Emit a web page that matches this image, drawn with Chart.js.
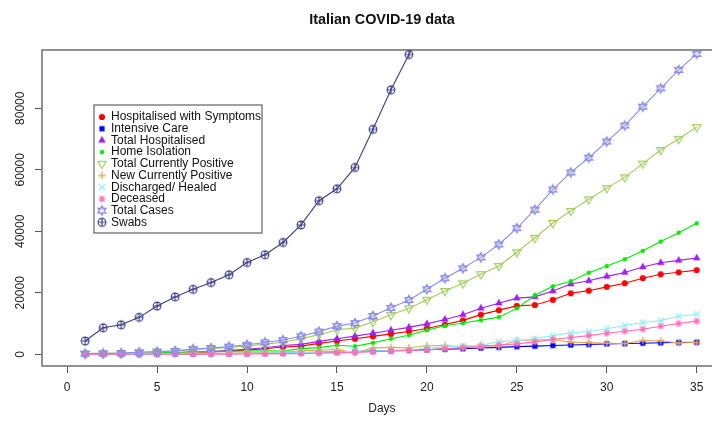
<!DOCTYPE html>
<html>
<head>
<meta charset="utf-8">
<title>Italian COVID-19 data</title>
<script src="https://cdn.jsdelivr.net/npm/chart.js@4/dist/chart.umd.min.js"></script>
<style>
  html, body { margin: 0; padding: 0; background: #fff; overflow: hidden; }
  #wrap { width: 712px; height: 425px; overflow: hidden; }
</style>
</head>
<body>
<div id="wrap"><canvas id="covidPlot" width="727" height="425"></canvas></div>
<script>
// days since 24 Feb 2020
const days = [1,2,3,4,5,6,7,8,9,10,11,12,13,14,15,16,17,18,19,20,21,22,23,24,25,26,27,28,29,30,31,32,33,34,35];

const hospitalisedSymptoms = [101,114,128,248,345,401,639,742,1034,1346,1790,2394,2651,3557,4316,5038,5838,6650,7426,8372,9663,11025,12894,14363,15757,16020,17708,19846,20692,21937,23112,24753,26029,26676,27386];
const intensiveCare = [26,35,36,56,64,105,140,166,229,295,351,462,567,650,733,877,1028,1153,1328,1518,1672,1851,2060,2257,2498,2655,2857,3009,3204,3396,3489,3612,3732,3856,3906];
const totalHospitalised = [127,150,164,304,409,506,779,908,1263,1641,2141,2856,3218,4207,5049,5915,6866,7803,8754,9890,11335,12876,14954,16620,18255,18675,20565,22855,23896,25333,26601,28365,29761,30532,31292];
const homeIsolation = [94,162,221,284,412,543,798,927,1000,1065,1155,1060,1843,2180,2936,2599,3724,5036,6201,7860,9268,10197,11108,12090,14935,19185,22116,23783,26522,28697,30920,33648,36653,39533,42588];
const totalCurrentlyPositive = [221,311,385,588,821,1049,1577,1835,2263,2706,3296,3916,5061,6387,7985,8514,10590,12839,14955,17750,20603,23073,26062,28710,33190,37860,42681,46638,50418,54030,57521,62013,66414,70065,73880];
const newCurrentlyPositive = [221,90,74,203,233,228,528,258,428,443,590,620,1145,1326,1598,529,2076,2249,2116,2795,2853,2470,2989,2648,4480,4670,4821,3957,3780,3612,3491,4492,4401,3651,3815];
const dischargedHealed = [1,1,3,45,46,50,83,149,160,276,414,523,589,622,724,1004,1045,1258,1439,1966,2335,2749,2941,4025,4440,5129,6072,7024,7432,8326,9362,10361,10950,12384,13030];
const deceased = [7,10,12,17,21,29,34,52,79,107,148,197,233,366,463,631,827,1016,1266,1441,1809,2158,2503,2978,3405,4032,4825,5476,6077,6820,7503,8165,9134,10023,10779];
const totalCases = [229,322,400,650,888,1128,1694,2036,2502,3089,3858,4636,5883,7375,9172,10149,12462,15113,17660,21157,24747,27980,31506,35713,41035,47021,53578,59138,63927,69176,74386,80539,86498,92472,97689];
const swabs = [4324,8623,9587,12014,15695,18661,21127,23345,25856,29837,32362,36359,42062,49937,53826,60761,73154,86011,97488,109170,124899,137962,148657,165541,182777,206886,233222,258402,275468,296964,324445,361060,394079,429526,454030];

const xTickValues = [0, 5, 10, 15, 20, 25, 30, 35];
const yTickValues = [0, 20000, 40000, 60000, 80000];

const FONT = '"Liberation Sans", Arial, Helvetica, sans-serif';

// small canvases used as point symbols (R style pch)
function marker(draw) {
    const c = document.createElement('canvas');
    c.width = 14; c.height = 14;
    const g = c.getContext('2d');
    g.translate(7, 7);
    draw(g);
    return c;
}
function dot(col, r) {
    return marker(g => { g.fillStyle = col; g.beginPath(); g.arc(0, 0, r, 0, Math.PI * 2); g.fill(); });
}
function square(col, s) {
    return marker(g => { g.fillStyle = col; g.fillRect(-s / 2, -s / 2, s, s); });
}
function triUp(col, r) {
    return marker(g => {
        g.fillStyle = col; g.beginPath();
        g.moveTo(0, -r); g.lineTo(r * 0.866, r * 0.5); g.lineTo(-r * 0.866, r * 0.5);
        g.closePath(); g.fill();
    });
}
function triDownOpen(col, r) {
    return marker(g => {
        g.strokeStyle = col; g.lineWidth = 1.1; g.beginPath();
        g.moveTo(0, r); g.lineTo(r * 0.866, -r * 0.5); g.lineTo(-r * 0.866, -r * 0.5);
        g.closePath(); g.stroke();
    });
}
function plus(col, h) {
    return marker(g => {
        g.strokeStyle = col; g.lineWidth = 1.3; g.beginPath();
        g.moveTo(-h, 0); g.lineTo(h, 0); g.moveTo(0, -h); g.lineTo(0, h); g.stroke();
    });
}
function crossX(col, h) {
    return marker(g => {
        g.strokeStyle = col; g.lineWidth = 1.2; g.beginPath();
        g.moveTo(-h, -h); g.lineTo(h, h); g.moveTo(-h, h); g.lineTo(h, -h); g.stroke();
    });
}
function asterisk(col, h) {
    return marker(g => {
        const d = h * 0.72;
        g.strokeStyle = col; g.lineWidth = 1.2; g.beginPath();
        g.moveTo(-h, 0); g.lineTo(h, 0); g.moveTo(0, -h); g.lineTo(0, h);
        g.moveTo(-d, -d); g.lineTo(d, d); g.moveTo(-d, d); g.lineTo(d, -d); g.stroke();
    });
}
function starDavid(col, r) {
    return marker(g => {
        g.strokeStyle = col; g.lineWidth = 1.1; g.beginPath();
        g.moveTo(0, -r); g.lineTo(r * 0.866, r * 0.5); g.lineTo(-r * 0.866, r * 0.5); g.closePath();
        g.moveTo(0, r); g.lineTo(r * 0.866, -r * 0.5); g.lineTo(-r * 0.866, -r * 0.5); g.closePath();
        g.stroke();
    });
}
function circlePlus(col, r) {
    return marker(g => {
        g.strokeStyle = col; g.lineWidth = 1.1; g.beginPath();
        g.arc(0, 0, r, 0, Math.PI * 2);
        g.moveTo(-r, 0); g.lineTo(r, 0); g.moveTo(0, -r); g.lineTo(0, r); g.stroke();
    });
}

const series = [
    { label: 'Hospitalised with Symptoms', data: hospitalisedSymptoms, color: '#ff0000', sym: dot('#ff0000', 3.1) },
    { label: 'Intensive Care', data: intensiveCare, color: '#0000ff', sym: square('#0000ff', 5.2) },
    { label: 'Total Hospitalised', data: totalHospitalised, color: '#a020f0', sym: triUp('#a020f0', 4.4) },
    { label: 'Home Isolation', data: homeIsolation, color: '#00ee00', sym: dot('#00ee00', 2.2) },
    { label: 'Total Currently Positive', data: totalCurrentlyPositive, color: '#a2cd5a', sym: triDownOpen('#a2cd5a', 4.8) },
    { label: 'New Currently Positive', data: newCurrentlyPositive, color: '#e6ac50', sym: plus('#e6ac50', 3.8) },
    { label: 'Discharged/ Healed', data: dischargedHealed, color: '#88f0ff', sym: crossX('#88f0ff', 3.0) },
    { label: 'Deceased', data: deceased, color: '#ff6eb4', sym: asterisk('#ff6eb4', 3.6) },
    { label: 'Total Cases', data: totalCases, color: '#8c8cf0', sym: starDavid('#8c8cf0', 4.8) },
    { label: 'Swabs', data: swabs, color: '#3c3c86', sym: circlePlus('#3c3c86', 3.9) }
];

// R-like box around the plot region
const plotBox = {
    id: 'plotBox',
    beforeDatasetsDraw(chart) {
        const a = chart.chartArea, ctx = chart.ctx;
        ctx.save();
        ctx.strokeStyle = '#6e6e6e';
        ctx.lineWidth = 1.5;
        ctx.strokeRect(a.left, a.top, a.right - a.left, a.bottom - a.top);
        ctx.restore();
    }
};

// legend box inside the plot, anchored in data coordinates
const legendBox = {
    id: 'legendBox',
    afterDatasetsDraw(chart) {
        const ctx = chart.ctx;
        const left = Math.round(chart.scales.x.getPixelForValue(1.5));
        const top = Math.round(chart.scales.y.getPixelForValue(81000));
        const rowH = 11.7, w = 168, h = 128;
        ctx.save();
        ctx.fillStyle = '#fff';
        ctx.fillRect(left, top, w, h);
        ctx.strokeStyle = '#6e6e6e';
        ctx.lineWidth = 1.3;
        ctx.strokeRect(left, top, w, h);
        ctx.font = '12px ' + FONT;
        ctx.textBaseline = 'middle';
        ctx.textAlign = 'left';
        ctx.fillStyle = '#111';
        series.forEach((s, i) => {
            const y = top + 12 + i * rowH;
            ctx.drawImage(s.sym, left + 8 - 7, y - 7);
            ctx.fillText(s.label, left + 17, y);
        });
        ctx.restore();
    }
};

const chart = new Chart(document.getElementById('covidPlot'), {
    type: 'line',
    data: {
        datasets: series.map((s, i) => ({
            label: s.label,
            data: days.map((d, k) => ({ x: d, y: s.data[k] })),
            borderColor: s.color,
            backgroundColor: s.color,
            borderWidth: 1.1,
            tension: 0,
            fill: false,
            pointStyle: s.sym,
            pointRadius: 4,
            order: series.length - i
        }))
    },
    options: {
        responsive: false,
        animation: false,
        events: [],
        layout: { padding: { left: 0, right: 1, top: 0, bottom: 0 } },
        plugins: {
            legend: { display: false },
            tooltip: { enabled: false },
            title: {
                display: true,
                text: 'Italian COVID-19 data',
                fullSize: false,
                color: '#111',
                font: { family: FONT, size: 14.4, weight: 'bold' },
                padding: { top: 11, bottom: 21.7 }
            }
        },
        scales: {
            x: {
                type: 'linear',
                min: -1.4,
                max: 36.4,
                afterFit(s) { s.height = 59; },
                afterBuildTicks(s) { s.ticks = xTickValues.map(v => ({ value: v })); },
                border: { display: false },
                grid: { drawOnChartArea: false, drawTicks: true, tickLength: 7, color: '#555' },
                ticks: {
                    autoSkip: false, maxRotation: 0,
                    padding: 7, color: '#222', font: { family: FONT, size: 12 },
                    callback: v => String(v)
                },
                title: {
                    display: true, text: 'Days', color: '#222',
                    font: { family: FONT, size: 12 },
                    padding: { top: 0, bottom: 9.5 }
                }
            },
            y: {
                type: 'linear',
                min: -3805,
                max: 98959,
                afterFit(s) { s.width = 42; },
                afterBuildTicks(s) { s.ticks = yTickValues.map(v => ({ value: v })); },
                border: { display: false },
                grid: { drawOnChartArea: false, drawTicks: true, tickLength: 7, color: '#555' },
                ticks: {
                    autoSkip: false,
                    minRotation: 90, maxRotation: 90, crossAlign: 'center', padding: -2,
                    color: '#222', font: { family: FONT, size: 12 },
                    callback: v => String(v)
                }
            }
        }
    },
    plugins: [plotBox, legendBox]
});
</script>
</body>
</html>
